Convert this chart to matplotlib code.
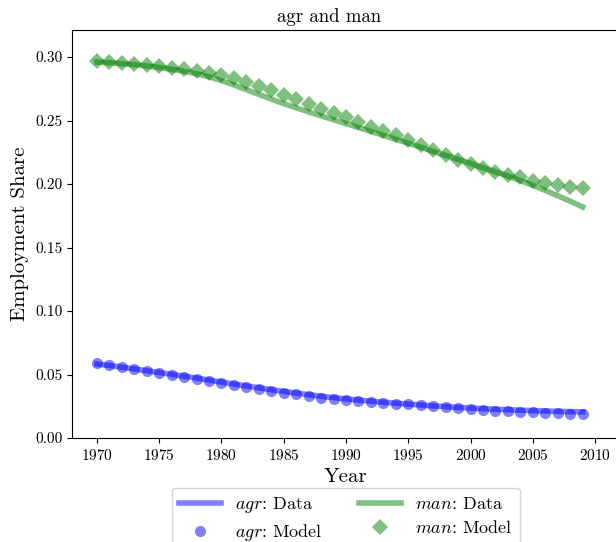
import matplotlib
matplotlib.use("Agg")
import matplotlib.pyplot as plt

plt.rcParams["font.family"] = "serif"
plt.rcParams["font.serif"] = ["cmr10", "DejaVu Serif"]
plt.rcParams["mathtext.fontset"] = "cm"
plt.rcParams["axes.formatter.use_mathtext"] = True

years = list(range(1970, 2010))

agr_data = [0.0583, 0.0571, 0.0558, 0.0544, 0.0530, 0.0516, 0.0502, 0.0487, 0.0472, 0.0456,
            0.0441, 0.0425, 0.0410, 0.0395, 0.0381, 0.0367, 0.0354, 0.0341, 0.0329, 0.0318,
            0.0308, 0.0299, 0.0290, 0.0282, 0.0274, 0.0267, 0.0260, 0.0253, 0.0247, 0.0241,
            0.0236, 0.0231, 0.0227, 0.0223, 0.0219, 0.0216, 0.0213, 0.0210, 0.0208, 0.0206]
agr_model = [0.0588, 0.0575, 0.0562, 0.0543, 0.0528, 0.0514, 0.0499, 0.0483, 0.0465, 0.0446,
             0.0433, 0.0417, 0.0399, 0.0383, 0.0370, 0.0357, 0.0344, 0.0331, 0.0318, 0.0309,
             0.0299, 0.0291, 0.0283, 0.0278, 0.0270, 0.0265, 0.0257, 0.0249, 0.0241, 0.0234,
             0.0228, 0.0220, 0.0215, 0.0210, 0.0205, 0.0202, 0.0197, 0.0194, 0.0191, 0.0189]
man_data = [0.2960, 0.2955, 0.2948, 0.2940, 0.2930, 0.2918, 0.2904, 0.2888, 0.2869, 0.2845,
            0.2815, 0.2780, 0.2743, 0.2706, 0.2669, 0.2633, 0.2600, 0.2568, 0.2537, 0.2506,
            0.2476, 0.2445, 0.2414, 0.2383, 0.2352, 0.2321, 0.2290, 0.2258, 0.2226, 0.2194,
            0.2162, 0.2129, 0.2096, 0.2063, 0.2027, 0.1990, 0.1950, 0.1908, 0.1865, 0.1820]
man_model = [0.2969, 0.2963, 0.2950, 0.2942, 0.2934, 0.2929, 0.2916, 0.2903, 0.2890, 0.2871,
             0.2858, 0.2837, 0.2806, 0.2772, 0.2740, 0.2701, 0.2667, 0.2630, 0.2591, 0.2557,
             0.2525, 0.2486, 0.2451, 0.2417, 0.2386, 0.2346, 0.2307, 0.2268, 0.2228, 0.2189,
             0.2157, 0.2123, 0.2097, 0.2071, 0.2052, 0.2026, 0.2005, 0.1992, 0.1979, 0.1966]

fig = plt.figure(figsize=(6.16, 5.42), dpi=100)
ax = fig.add_axes([72 / 616, 104 / 542, 548 / 616, 408 / 542])

ax.plot(years, agr_data, color="blue", alpha=0.5, lw=4, label="$agr$: Data")
ax.plot(years, agr_model, "o", color="blue", alpha=0.5, ms=8, mew=0, label="$agr$: Model")
ax.plot(years, man_data, color="green", alpha=0.5, lw=4, label="$man$: Data")
ax.plot(years, man_model, "D", color="green", alpha=0.5, ms=8.5, mew=0, label="$man$: Model")

ax.set_xlim(1968, 2012)
ax.set_ylim(0, 0.3213)
ax.set_xticks(range(1970, 2011, 5))
ax.set_yticks([0, 0.05, 0.10, 0.15, 0.20, 0.25, 0.30])
ax.set_yticklabels(["0.00", "0.05", "0.10", "0.15", "0.20", "0.25", "0.30"])
ax.tick_params(labelsize=11)
ax.spines["right"].set_visible(False)

ax.set_xlabel("Year", fontsize=15, labelpad=4)
ax.set_ylabel("Employment Share", fontsize=15)
ax.set_title("agr and man", fontsize=13.5, x=0.47)

ax.legend(loc="upper center", bbox_to_anchor=(0.5, -0.122), borderaxespad=0, ncol=2,
          fontsize=13, handlelength=2.3, columnspacing=2.0, labelspacing=0.4,
          borderpad=0.4)

fig.savefig("out.png", dpi=100)
